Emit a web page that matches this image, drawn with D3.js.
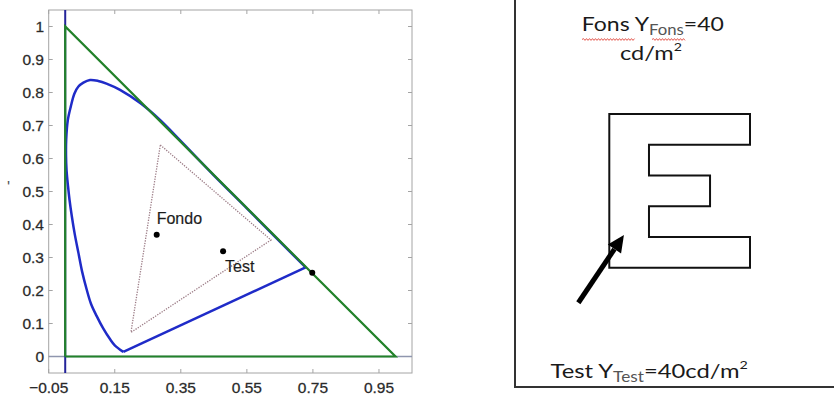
<!DOCTYPE html>
<html>
<head>
<meta charset="utf-8">
<script src="https://cdn.jsdelivr.net/npm/d3@7"></script>
<style>
  body { margin: 0; background: #fff; }
  svg { display: block; }
</style>
</head>
<body>
<div id="chart"></div>
<script>
// chromaticity diagram data
const xTicks = [-0.05, 0.15, 0.35, 0.55, 0.75, 0.95];
const yTicks = [0, 0.1, 0.2, 0.3, 0.4, 0.5, 0.6, 0.7, 0.8, 0.9, 1];

// spectrum locus, from the short-wavelength end round to the long end
const locus = [
  [0.176, 0.014], [0.150, 0.034], [0.136, 0.052], [0.115, 0.085], [0.095, 0.123],
  [0.078, 0.160], [0.065, 0.203], [0.051, 0.258], [0.040, 0.314], [0.029, 0.370],
  [0.020, 0.425], [0.013, 0.475], [0.0085, 0.516], [0.004, 0.565], [0.0025, 0.607],
  [0.003, 0.657], [0.008, 0.717], [0.017, 0.758], [0.028, 0.797], [0.040, 0.818],
  [0.055, 0.830], [0.075, 0.838], [0.100, 0.835], [0.125, 0.827], [0.166, 0.808],
  [0.227, 0.768], [0.287, 0.717], [0.348, 0.655], [0.45, 0.549], [0.55, 0.449],
  [0.65, 0.348], [0.728, 0.270]
];
// primaries triangle (x + y = 1 bound)
const boundary = [[0, 0], [0, 1], [1, 0], [0, 0]];
// dotted gamut triangle
const gamut = [[0.288, 0.641], [0.623, 0.353], [0.199, 0.073], [0.288, 0.641]];
// marked points
const points = [
  { name: 'Fondo', x: 0.277, y: 0.369, dx: 0, dy: -11 },
  { name: 'Test', x: 0.478, y: 0.319, dx: 2, dy: 21 },
  { name: '', x: 0.748, y: 0.254, dx: 0, dy: 0 }
];

// right panel: letter E outline in unit box, and the arrow
const eShape = [
  [0, 0], [1, 0], [1, 0.2], [0.282, 0.2], [0.282, 0.4], [0.716, 0.4],
  [0.716, 0.6], [0.282, 0.6], [0.282, 0.8], [1, 0.8], [1, 1], [0, 1]
];
const arrow = { from: [-0.22, 1.228], to: [0.104, 0.787] };

const width = 834, height = 402;
const svg = d3.select('#chart').append('svg')
  .attr('width', width)
  .attr('height', height);

// ---- left: diagram ----
const plot = { left: 48.7, right: 412, top: 10, bottom: 373 };
const x = d3.scaleLinear().domain([-0.05, 1.05]).range([plot.left, plot.right]);
const y = d3.scaleLinear().domain([-0.05, 1.05]).range([plot.bottom, plot.top]);

const g = svg.append('g');
const axisFont = '"Liberation Sans", Arial, sans-serif';

g.append('rect')
  .attr('x', plot.left).attr('y', plot.top)
  .attr('width', plot.right - plot.left).attr('height', plot.bottom - plot.top)
  .attr('fill', '#fff').attr('stroke', '#a4a4a4').attr('stroke-width', 1);

// inward ticks on all four sides
const tickLen = 4;
xTicks.forEach(t => {
  g.append('line').attr('x1', x(t)).attr('x2', x(t))
    .attr('y1', plot.bottom).attr('y2', plot.bottom - tickLen)
    .attr('stroke', '#a4a4a4');
  g.append('line').attr('x1', x(t)).attr('x2', x(t))
    .attr('y1', plot.top).attr('y2', plot.top + tickLen)
    .attr('stroke', '#a4a4a4');
});
yTicks.forEach(t => {
  g.append('line').attr('y1', y(t)).attr('y2', y(t))
    .attr('x1', plot.left).attr('x2', plot.left + tickLen)
    .attr('stroke', '#a4a4a4');
  g.append('line').attr('y1', y(t)).attr('y2', y(t))
    .attr('x1', plot.right).attr('x2', plot.right - tickLen)
    .attr('stroke', '#a4a4a4');
});

g.selectAll('.xlab').data(xTicks).enter().append('text')
  .attr('x', d => x(d)).attr('y', 393)
  .attr('text-anchor', 'middle')
  .style('font-family', axisFont).style('font-size', '15.5px')
  .attr('fill', '#222').attr('stroke', '#444').attr('stroke-width', 0.3)
  .text(d => d3.format('.2f')(d));

g.selectAll('.ylab').data(yTicks).enter().append('text')
  .attr('x', 44).attr('y', d => y(d)).attr('dy', '0.36em')
  .attr('text-anchor', 'end')
  .style('font-family', axisFont).style('font-size', '15.5px')
  .attr('fill', '#222').attr('stroke', '#444').attr('stroke-width', 0.3)
  .text(d => d3.format('~g')(d));

// cropped axis title fragment at the far left
g.append('text').attr('x', 7).attr('y', 193)
  .style('font-family', axisFont).style('font-size', '16px').attr('fill', '#555')
  .text("'");

const line = d3.line().x(d => x(d[0])).y(d => y(d[1]));

// zero lines
g.append('line')
  .attr('x1', plot.left).attr('x2', plot.right)
  .attr('y1', y(0)).attr('y2', y(0))
  .attr('stroke', '#8f96ae').attr('stroke-width', 1.3);
g.append('line')
  .attr('x1', x(0)).attr('x2', x(0))
  .attr('y1', plot.top).attr('y2', plot.bottom)
  .attr('stroke', '#24249a').attr('stroke-width', 2);

// dotted gamut
g.append('path')
  .attr('d', line(gamut))
  .attr('fill', 'none').attr('stroke', '#9c7c86')
  .attr('stroke-width', 1.3).attr('stroke-dasharray', '1.3,1.3');

// locus and purple line
g.append('path')
  .attr('d', d3.line().x(d => x(d[0])).y(d => y(d[1])).curve(d3.curveCatmullRom)(locus))
  .attr('fill', 'none').attr('stroke', '#1f2bc8').attr('stroke-width', 2.5)
  .attr('stroke-linejoin', 'round');
g.append('path')
  .attr('d', line([locus[locus.length - 1], locus[0]]))
  .attr('fill', 'none').attr('stroke', '#1f2bc8').attr('stroke-width', 2.5);

// boundary triangle
g.append('path')
  .attr('d', line(boundary))
  .attr('fill', 'none').attr('stroke', '#22822a').attr('stroke-width', 2.2);

g.selectAll('.pt').data(points).enter().append('circle')
  .attr('cx', d => x(d.x)).attr('cy', d => y(d.y)).attr('r', 3)
  .attr('fill', '#000');

g.selectAll('.ptlab').data(points.filter(d => d.name)).enter().append('text')
  .attr('x', d => x(d.x) + d.dx).attr('y', d => y(d.y) + d.dy)
  .style('font-family', axisFont).style('font-size', '16px')
  .attr('fill', '#1a1a1a').attr('stroke', '#333').attr('stroke-width', 0.2)
  .text(d => d.name);

// ---- right: test figure ----
const r = svg.append('g');
const textFont = 'Lato, "Open Sans", sans-serif';

r.append('rect')
  .attr('x', 515).attr('y', -5).attr('width', 340).attr('height', 392)
  .attr('fill', 'none').attr('stroke', '#333').attr('stroke-width', 2);

const ex = d3.scaleLinear().domain([0, 1]).range([609.3, 750]);
const ey = d3.scaleLinear().domain([0, 1]).range([114, 267.7]);

r.append('path')
  .attr('d', d3.line().x(d => ex(d[0])).y(d => ey(d[1]))(eShape) + 'Z')
  .attr('fill', '#fff').attr('stroke', '#111').attr('stroke-width', 2);

// arrow
const ax0 = ex(arrow.from[0]), ay0 = ey(arrow.from[1]);
const ax1 = ex(arrow.to[0]), ay1 = ey(arrow.to[1]);
const ang = Math.atan2(ay1 - ay0, ax1 - ax0);
const headLen = 17, headW = 8;
const bx = ax1 - headLen * Math.cos(ang), by = ay1 - headLen * Math.sin(ang);
r.append('line')
  .attr('x1', ax0).attr('y1', ay0).attr('x2', bx).attr('y2', by)
  .attr('stroke', '#000').attr('stroke-width', 5);
r.append('path')
  .attr('d', `M${ax1},${ay1}L${bx + headW * Math.sin(ang)},${by - headW * Math.cos(ang)}L${bx - headW * Math.sin(ang)},${by + headW * Math.cos(ang)}Z`)
  .attr('fill', '#000');

// squeeze/stretch a text line horizontally so it spans [x0, x1]
function fitText(sel, x0, x1) {
  const bb = sel.node().getBBox();
  const s = (x1 - x0) / bb.width;
  sel.attr('transform', `translate(${x0},0) scale(${s},1) translate(${-bb.x},0)`);
}

function labelLine(yy, parts) {
  const t = r.append('text').attr('x', 0).attr('y', yy)
    .style('font-family', textFont).style('font-size', '20px').attr('fill', '#1a1a1a');
  parts.forEach(p => {
    const sp = t.append('tspan').text(p.text);
    if (p.sub) sp.attr('dy', 4).style('font-size', '14.5px').attr('fill', '#555');
    if (p.sup) sp.attr('dy', -9).style('font-size', '12px');
    if (p.dy) sp.attr('dy', p.dy);
  });
  return t;
}

const t1 = labelLine(30.7, [
  { text: 'Fons Y' }, { text: 'Fons', sub: true }, { text: '=40', dy: -4 }
]);
fitText(t1, 581.7, 724);

const t2 = labelLine(60, [{ text: 'cd/m' }, { text: '2', sup: true }]);
fitText(t2, 620, 682);

const t3 = labelLine(378.3, [
  { text: 'Test Y' }, { text: 'Test', sub: true }, { text: '=40cd/m', dy: -4 }, { text: '2', sup: true }
]);
fitText(t3, 550.5, 748);

// spell-check squiggles
function squiggle(x0, x1, yy) {
  let d = `M${x0},${yy}`;
  for (let xx = x0, up = true; xx < x1; xx += 1.5, up = !up) {
    d += `L${xx + 1.5},${yy + (up ? -0.9 : 0.9)}`;
  }
  return d;
}
[[582, 634], [652, 684]].forEach(s => {
  r.append('path').attr('d', squiggle(s[0], s[1], 39.5))
    .attr('fill', 'none').attr('stroke', '#e0463c').attr('stroke-width', 0.9);
});
</script>
</body>
</html>
